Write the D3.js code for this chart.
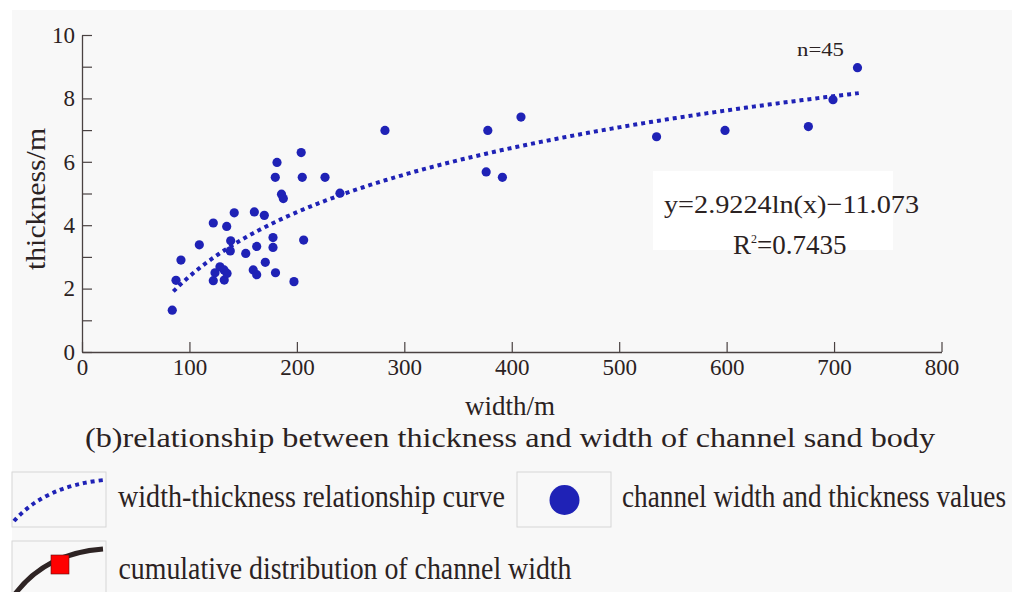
<!DOCTYPE html>
<html><head><meta charset="utf-8">
<script src="https://cdn.jsdelivr.net/npm/d3@7/dist/d3.min.js"></script>
<style>html,body{margin:0;padding:0;background:#fff;}svg{display:block;}</style>
</head><body>
<svg id="chart" width="1016" height="592"></svg>
<script>
// ---- data ----
const widthValues = [84.0, 87.5, 92.1, 109.2, 122.2, 122.2, 123.8, 128.4, 132.4, 132.2, 135.0, 134.7, 138.4, 138.0, 141.7,
  152.4, 159.4, 162.6, 160.4, 162.6, 169.7, 170.6, 177.8, 177.8, 180.1, 179.9, 181.5, 185.7, 187.4, 197.3,
  204.0, 205.0, 206.3, 226.2, 240.1, 282.0, 376.2, 377.7, 391.3, 408.6, 534.8, 598.5, 676.1, 699.0, 721.8];
const thicknessValues = [1.32, 2.26, 2.90, 3.38, 4.07, 2.25, 2.50, 2.69, 2.27, 2.59, 2.48, 3.96, 3.51, 3.19, 4.39,
  3.11, 2.59, 2.44, 4.42, 3.33, 4.31, 2.83, 3.61, 3.30, 2.50, 5.51, 5.98, 4.98, 4.84, 2.22,
  6.29, 5.51, 3.53, 5.51, 5.01, 6.99, 5.68, 6.99, 5.51, 7.41, 6.79, 6.99, 7.11, 7.96, 8.97];
const fitA = 2.9224, fitB = -11.073;       // y = a ln(x) + b (printed on chart)
const fitRange = [85, 723];
const xTicks = [0, 100, 200, 300, 400, 500, 600, 700, 800];
const yTicks = [0, 1, 2, 3, 4, 5, 6, 7, 8, 9, 10];
const yTickLabels = ["0", "", "2", "", "4", "", "6", "", "8", "", "10"];
const legendLabels = ["width-thickness relationship curve", "channel width and thickness values", "cumulative distribution of channel width"];

// ---- drawing ----
const svg = d3.select("#chart");
const FONT = "'Liberation Serif','Times New Roman',serif";
const TXT = "#2b2222", AX = "#4a4242", BLUE = "#1f22b6";

svg.append("rect").attr("x", 12).attr("y", 10).attr("width", 1000).attr("height", 590).attr("fill", "#f8f8f8");

const x = d3.scaleLinear().domain([0, 800]).range([82, 941.5]);
const y = d3.scaleLinear().domain([0, 10]).range([352, 35]);

const gx = svg.append("g").attr("transform", "translate(0,352)")
  .call(d3.axisBottom(x).tickValues(xTicks).tickSize(-10).tickSizeOuter(0).tickPadding(7));
const gy = svg.append("g").attr("transform", "translate(82,0)")
  .call(d3.axisLeft(y).tickValues(yTicks).tickSize(-10).tickSizeOuter(0).tickPadding(7)
    .tickFormat((d, i) => yTickLabels[i]));
[gx, gy].forEach(g => {
  g.attr("font-family", FONT).attr("font-size", 23);
  g.selectAll("path.domain").attr("stroke", AX).attr("stroke-width", 1.3);
  g.selectAll(".tick line").attr("stroke", AX).attr("stroke-width", 1.2);
  g.selectAll(".tick text").attr("fill", TXT).style("font-family", FONT).style("font-size", "23px");
});

// fitted curve
const fitPts = d3.range(fitRange[0], fitRange[1] + 0.001, 2).map(v => [v, fitA * Math.log(v) + fitB]);
svg.append("path").datum(fitPts)
  .attr("d", d3.line().x(d => x(d[0])).y(d => y(d[1])))
  .attr("fill", "none").attr("stroke", BLUE).attr("stroke-width", 4).attr("stroke-dasharray", "4 4");

// points
svg.append("g").selectAll("circle").data(widthValues.map((w, i) => [w, thicknessValues[i]]))
  .join("circle").attr("cx", d => x(d[0])).attr("cy", d => y(d[1])).attr("r", 4.6).attr("fill", BLUE);

// equation box
svg.append("rect").attr("x", 653).attr("y", 171).attr("width", 240).attr("height", 79).attr("fill", "#ffffff");
svg.append("text").attr("x", 664).attr("y", 213).attr("textLength", 255).attr("lengthAdjust", "spacingAndGlyphs")
  .style("font-family", FONT).style("font-size", "26px").attr("fill", TXT).text("y=2.9224ln(x)\u221211.073");
const r2 = svg.append("text").attr("x", 733).attr("y", 253.5).style("font-family", FONT).style("font-size", "27px").attr("fill", TXT);
r2.append("tspan").text("R");
r2.append("tspan").attr("dy", -11).style("font-size", "12px").text("2");
r2.append("tspan").attr("dy", 11).text("=0.7435");

svg.append("text").attr("x", 797).attr("y", 56).attr("textLength", 47).attr("lengthAdjust", "spacingAndGlyphs")
  .style("font-family", FONT).style("font-size", "19px").attr("fill", TXT).text("n=45");

// axis titles
svg.append("text").attr("transform", "translate(45,199) rotate(-90)").attr("text-anchor", "middle")
  .attr("textLength", 142).attr("lengthAdjust", "spacingAndGlyphs")
  .style("font-family", FONT).style("font-size", "28px").attr("fill", TXT).text("thickness/m");
svg.append("text").attr("x", 510).attr("y", 415).attr("text-anchor", "middle")
  .style("font-family", FONT).style("font-size", "27px").attr("fill", TXT).text("width/m");

// caption
svg.append("text").attr("x", 85).attr("y", 447).attr("textLength", 850).attr("lengthAdjust", "spacingAndGlyphs")
  .style("font-family", FONT).style("font-size", "28px").attr("fill", TXT)
  .text("(b)relationship between thickness and width of channel sand body");

// legend
const boxes = [[12, 472], [517, 472], [12, 541]];
boxes.forEach(b => svg.append("rect").attr("x", b[0]).attr("y", b[1]).attr("width", 94).attr("height", b[1] > 500 ? 60 : 55)
  .attr("fill", "#f8f8f8").attr("stroke", "#d6d6d6").attr("stroke-width", 1));
svg.append("path").attr("d", "M14,521 Q45,486 104,480").attr("fill", "none").attr("stroke", BLUE)
  .attr("stroke-width", 4).attr("stroke-dasharray", "4 4");
svg.append("circle").attr("cx", 564.5).attr("cy", 500).attr("r", 15).attr("fill", BLUE);
svg.append("path").attr("d", "M15,594 Q46,553 103,549").attr("fill", "none").attr("stroke", "#2e2424").attr("stroke-width", 5);
svg.append("rect").attr("x", 51).attr("y", 555).attr("width", 18).attr("height", 19).attr("fill", "#ff0000").attr("stroke", "#5a1010").attr("stroke-width", 0.6);

const lt = [[118, 507, 387, legendLabels[0]], [622, 507, 384, legendLabels[1]], [118.5, 579, 453, legendLabels[2]]];
lt.forEach(t => svg.append("text").attr("transform", `translate(${t[0]},${t[1]}) scale(1,1.18)`)
  .attr("textLength", t[2]).attr("lengthAdjust", "spacingAndGlyphs")
  .style("font-family", FONT).style("font-size", "27px").attr("fill", TXT).text(t[3]));
</script>
</body></html>
